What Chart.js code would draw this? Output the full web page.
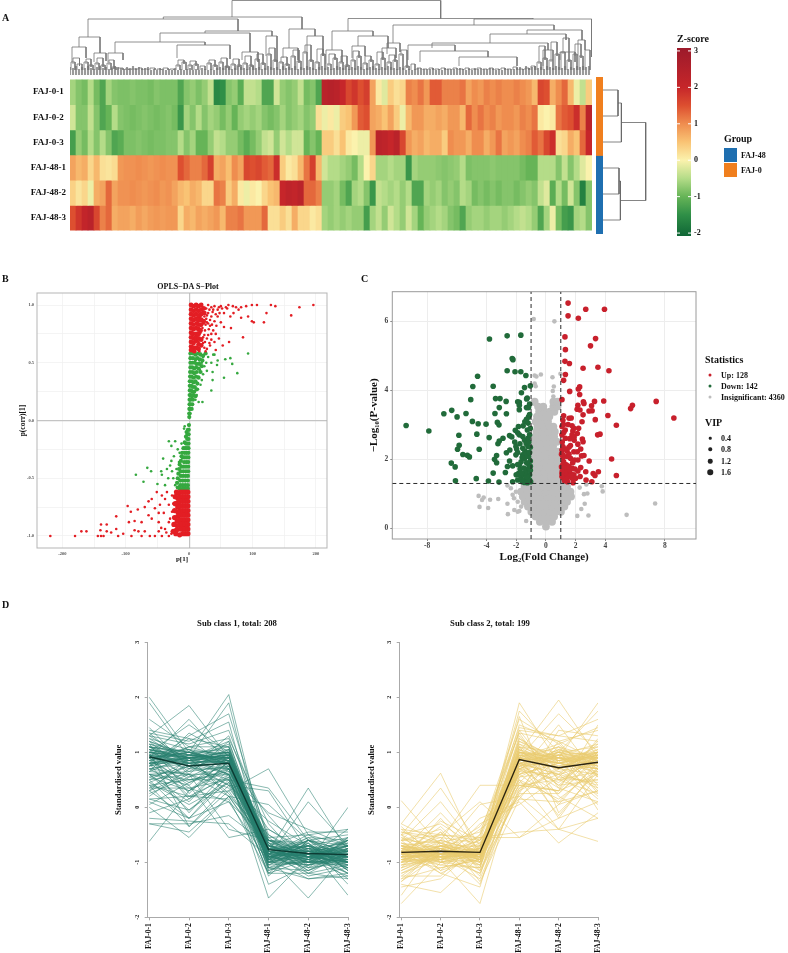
<!DOCTYPE html>
<html>
<head>
<meta charset="utf-8">
<title>FAJ metabolomics figure</title>
<script src="https://cdn.jsdelivr.net/npm/chart.js@4"></script>
<style>
  html, body { margin: 0; background: #fff; }
  #page { position: relative; width: 788px; height: 953px; overflow: hidden; font-family: "Liberation Serif", serif; color: #111; }
  canvas { position: absolute; }
  .t { position: absolute; font-weight: bold; font-size: 8px; white-space: nowrap; transform: translateY(-50%); will-change: transform; }
  .c { transform: translate(-50%, -50%); }
  .h { font-size: 10px; }
  .dot { position: absolute; border-radius: 50%; transform: translate(-50%, -50%); }
  .sw { position: absolute; left: 724px; width: 13px; height: 14px; }
</style>
</head>
<body>
<div id="page">
  <canvas id="treeTop" width="522" height="76" style="left:70px;top:0"></canvas>
  <canvas id="heat" width="600" height="170" style="left:0;top:70px"></canvas>
  <canvas id="groupBar" width="7" height="157" style="left:596px;top:77px"></canvas>
  <canvas id="treeSide" width="44" height="156" style="left:603px;top:77px"></canvas>
  <canvas id="zbar" width="50" height="205" style="left:670px;top:40px"></canvas>
  <canvas id="splot" width="320" height="290" style="left:14px;top:278px"></canvas>
  <canvas id="volcano" width="334" height="281" style="left:366px;top:285px"></canvas>
  <canvas id="sub1" width="255" height="321" style="left:105px;top:632px"></canvas>
  <canvas id="sub2" width="250" height="321" style="left:360px;top:632px"></canvas>

  <div class="t h" style="left:2px;top:17px">A</div>
  <div class="t h" style="left:2px;top:278px">B</div>
  <div class="t h" style="left:361px;top:278px">C</div>
  <div class="t h" style="left:2px;top:604px">D</div>

  <div class="t h" style="left:677px;top:38px">Z-score</div>
  <div class="t h" style="left:724px;top:138px">Group</div>
  <div class="sw" style="top:148px;background:#1f6fb0"></div>
  <div class="sw" style="top:163px;background:#f07f1e"></div>
  <div class="t" style="left:741px;top:155px">FAJ-48</div>
  <div class="t" style="left:741px;top:170px">FAJ-0</div>

  <div class="t c" style="left:188px;top:286px;font-size:8px">OPLS−DA S−Plot</div>

  <div class="t h" style="left:705px;top:359px">Statistics</div>
  <div class="dot" style="left:710px;top:375px;width:3px;height:3px;background:#c8202c"></div>
  <div class="dot" style="left:710px;top:386px;width:3px;height:3px;background:#216b3a"></div>
  <div class="dot" style="left:710px;top:397px;width:3px;height:3px;background:#bdbdbd"></div>
  <div class="t" style="left:721px;top:375px">Up: 128</div>
  <div class="t" style="left:721px;top:386px">Down: 142</div>
  <div class="t" style="left:721px;top:397px">Insignificant: 4360</div>
  <div class="t h" style="left:705px;top:422px">VIP</div>
  <div class="dot" style="left:710px;top:438px;width:2.5px;height:2.5px;background:#222"></div>
  <div class="dot" style="left:710px;top:449px;width:3.5px;height:3.5px;background:#222"></div>
  <div class="dot" style="left:710px;top:461px;width:4.5px;height:4.5px;background:#222"></div>
  <div class="dot" style="left:710px;top:472px;width:5.5px;height:5.5px;background:#222"></div>
  <div class="t" style="left:721px;top:438px">0.4</div>
  <div class="t" style="left:721px;top:449px">0.8</div>
  <div class="t" style="left:721px;top:461px">1.2</div>
  <div class="t" style="left:721px;top:472px">1.6</div>

  <div class="t c" style="left:237px;top:623px;font-size:8.7px">Sub class 1, total: 208</div>
  <div class="t c" style="left:490px;top:623px;font-size:8.7px">Sub class 2, total: 199</div>
</div>
<script>
const samples = ['FAJ-0-1', 'FAJ-0-2', 'FAJ-0-3', 'FAJ-48-1', 'FAJ-48-2', 'FAJ-48-3'];

// panel A, z-score per row, one value per column band
const rowA1 = [-.6,-.8,-.9,-.5,-.9,-1.2,-.6,-.8,-.85,-.85,-.8,-.85,-.85,-.9,-.8,-.85,-.85,-.85,-1.2,-.8,-.7,-.85,-.7,-.4,-1.6,-1.5,-.8,-.7,-1.1,-.4,
  -.4,-.5,-1.2,-1.2,-.3,-.7,-.8,-.7,-.4,-.9,-.8,-1.2,2.3,2.4,2.3,2,1.6,1.8,1.5,1.7,.8,.1,-.2,.4,.2,.3,1.1,1,1.2,.9,
  1.4,1.4,1.1,1.1,1.1,1.2,.8,1,.9,1.1,1,1.1,1,1,1.1,1,.9,.6,1.6,1.5,.7,1,1.3,.6,-.1,-.4,.4];
const rowA2 = [-.3,-.8,-.8,-.4,-.8,-1.2,-1,-.5,-.8,-.85,-.9,-.85,-.8,-.85,-.9,-.85,-.8,-.9,-1.4,-.6,-.8,-.5,-.8,-.6,-.7,-.9,-.7,-1,-.7,-.6,
  -.7,-.6,-.8,-.9,-.8,-.6,-.8,-.7,-.6,-.8,-.7,.2,-.1,.1,-.1,.4,.5,.9,1.4,1.5,.8,.7,.5,.8,.4,-.1,.6,.9,.9,.7,
  .7,.8,.7,.9,.9,.6,1.3,1,1.2,1,1.1,.9,1,1,.9,1.1,1,1.2,.1,0,.1,1.2,1.4,1.5,1.9,1.1,2.3];
const rowA3 = [-1.3,-.7,-.9,-.5,-.8,-.5,-.8,-1.2,-1.1,-.85,-.85,-.8,-.85,-.9,-.85,-.85,-.8,-.8,-.5,-.8,-.6,-1,-1,-.7,-.4,-.5,-.7,-.7,-.9,-1.1,
  -.9,-.7,-.4,-.3,-.7,-.3,-.5,-.3,-.3,-1,-.8,-1,.4,.4,.2,.5,.1,0,-.1,-.1,.9,2.3,2.2,2,2.3,1.6,.9,.7,.8,.6,
  .7,.7,.4,1,.9,.9,.7,1,1,.7,.9,1.2,.8,.9,.8,1,1.1,1.4,1.2,1.6,1.9,.2,.3,.7,.5,1.3,2];
const rowB1 = [.8,.6,.7,.3,.6,.2,.15,.25,.9,.95,.95,1,.95,.9,.95,1,.95,.95,1.5,1.3,1.1,1.1,1.3,1.7,.7,.8,.55,1,.8,1.6,
  1.5,1.6,1.4,1.3,1.9,.4,.1,.2,.6,1.2,1.7,.6,-.3,-.5,-.5,-.6,-.7,-.9,-.5,0,.3,-.6,-.6,-.5,-.6,-.6,-1.4,-.6,-.7,-.7,
  -.7,-.75,-.8,-.75,-.7,-.5,-.85,-.8,-.8,-.8,-.75,-.8,-.8,-.8,-.8,-.9,-1,-1,-.5,-.5,-.5,-.8,-.4,-.8,-.5,-.2,0];
const rowB2 = [.35,.15,.3,-.1,.7,.8,1.3,.8,.95,.95,1,.95,.9,.95,1,.9,.95,.8,.6,.5,.7,.6,.3,.3,1.2,1.1,.4,.7,.1,-.1,
  .1,0,.3,.5,.6,2,2.2,2.1,2.3,1.3,1.3,1.1,-.7,-.7,-.6,-.9,-1.2,-.6,-.5,-.8,-1.4,-.4,-.5,-.6,-.5,-.7,-.5,-1.2,-1.2,-.6,
  -.7,-.6,-.8,-.7,-.8,-.5,-.6,-.9,-.8,-.9,-.8,-.9,-.8,-.8,-.9,-.8,-.7,-.8,-.4,-.2,-1.1,-.5,-.9,-.3,-.8,-1.7,-.8];
const rowB3 = [1.5,1.8,2.1,2.3,1.6,1.1,1.3,.7,.8,.8,.7,.85,.75,.85,.9,.85,.9,.9,.3,.7,.6,.8,.7,.8,.9,.6,1.1,1.1,1.2,.9,
  .9,.9,1.3,.2,.2,.4,.2,.7,.3,.3,.1,.2,-.6,-.7,-.6,-.7,-.6,-.7,-.7,-1.3,-.6,-.4,-.7,-.3,-.5,-.7,-.3,-.6,-1,-.7,
  -.6,-.5,-.6,-.8,-.9,-1.2,-.7,-.6,-.6,-.7,-.6,-.6,-.7,-.6,-.5,-.4,-.5,-.7,-1.2,-.6,-.1,-.9,-1.3,-1.4,-.6,-.5,-.8];
const heatRows = [rowA1, rowA2, rowA3, rowB1, rowB2, rowB3];
const rowGroups = ['FAJ-0', 'FAJ-0', 'FAJ-0', 'FAJ-48', 'FAJ-48', 'FAJ-48'];
const groupColors = { 'FAJ-0': '#f07f1e', 'FAJ-48': '#1f6fb0' };
const zTicks = [3, 2, 1, 0, -1, -2];
const zStops = [[-2.08,'#0f6636'],[-1.5,'#2f8f47'],[-1,'#66b457'],[-.5,'#b4dc88'],[0,'#fbf2ad'],[.5,'#f9c374'],[1,'#ef8d4f'],[1.5,'#dd4f30'],[2,'#c6262a'],[3.08,'#9c1a2b']];

// column tree: [leftPos, leftHeight, rightPos, rightHeight, joinHeight]
const treeMerges = [
  [162,59,370.7,57.5,75.5],[93.3,57,232,47,59],[18,39,168,45,57],[9,29,30,23,39],[2,14,16,18,29],[24,14,36,15,23],
  [135,43,202,40,45],[90,34,180,24,43],[45,23,135,31,34],[38,14,53,16,23],[107,18,160,17,31],[172,16,188,14,24],
  [196,20,207,14,40],[219,28,245,40,47],[237,24,253,20,40],[213,18,228,16,28],
  [278,45,463,57,57.5],[404,51,521.7,19,57],[262,26,303,40,45],[256,12,272,14,26],[288,30,318,28,40],[282,18,295,20,30],[312,16,326,18,28],
  [323,33,484,46,51],[317,22,330,24,33],[457,42,512,36,46],[420,33,496,36,42],[508,20,515,26,36],[362,28,478,26,33],
  [338,16,385,25,31],[350,14,418,19,25],[389,10,447,10,19],[473,10,483,16,26],[490,16,505,14,24],
  [3,12,9.5,10,18],[16,12,21,9,17],[27,11,33,9,18],[39,11,44,7,16],[187,15,193,11,22],[199,20,205,14,28],[211,12,217,10,19],[223,18,229,13,26],[235,22,241,14,31],[247,12,253,20,27],[259,10,265,16,22],[271,12,277,9,20],[283,14,289,18,25],[295,11,301,14,20],[307,10,313,16,24],[319,12,325,14,21],[331,20,337,8,26],[469,12,475,16,30],[481,14,487,20,34],[493,22,499,14,38],[505,20,511,18,32],[108,9,114,12,16],[120,9,126,10,15],[139,11,145,9,16],[151,12,157,8,18],[163,10,169,9,17],[175,11,181,9,20]
];
const twigs = [[1,5,12],[7,12,10],[14,18,12],[19,23,9],[25,29,11],[31,35,9],[37,41,11],[42,46,7],[48,53,6],[55,59,5],[61,66,5],[68,72,6],[74,78,5],[80,85,6],[87,91,5],[93,98,6],[100,104,5],[106,110,9],[112,116,12],[118,122,9],[124,128,10],[130,135,8],[137,141,11],[143,147,9],[149,153,12],[155,159,8],[161,165,10],[167,171,9],[173,177,11],[179,183,9],[185,189,15],[191,195,11],[197,201,20],[203,207,14],[209,213,12],[215,219,10],[221,225,18],[227,231,13],[233,237,22],[239,243,14],[245,249,12],[251,255,20],[257,261,10],[263,267,16],[269,273,12],[275,279,9],[281,285,14],[287,291,18],[293,297,11],[299,303,14],[305,309,10],[311,315,16],[317,321,12],[323,327,14],[329,333,20],[335,339,8],[341,345,10],[347,351,6],[353,357,5],[359,363,6],[365,369,5],[371,375,6],[377,381,5],[383,387,6],[389,393,5],[395,399,6],[401,405,5],[407,411,6],[413,417,5],[419,423,6],[425,429,5],[431,435,6],[437,441,5],[443,447,7],[449,453,5],[455,459,6],[461,465,8],[467,471,12],[473,477,16],[479,483,14],[485,489,20],[491,495,22],[497,501,14],[503,507,20],[509,513,18],[515,520,24]];
const leafHeights = [9,8,10,7,9,8,10,8,7,9,10,8,9,7,8,10,9,8,7,9,8,10,8,9,7,8,9,6,7,6,8,7,6,7,6,8,6,7,6,7,8,6,7,6,8,7,6,7,6,8,9,8,10,9,7,8,10,9,8,7,9,10,8,9,7,8,10,9,8,9,7,10,8,9,8,10,7,9,8,10,9,8,7,9,10,8,9,7,8,10,9,8,10,7,9,8,10,9,7,8,9,10,8,7,9,8,10,9,8,7,9,8,6,7,6,7,8,6,7,6,7,8,6,7,6,8,7,6,7,6,8,7,6,7,6,8,7,6,7,6,8,7,6,7,6,8,7,6,7,8,9,7,10,8,9,10,8,9,7,10,9,8,10,9,8,10,7,9,8,10,9,10,9,10];
// row tree: [topRow, topDepth, bottomRow, bottomDepth, joinDepth]
const rowMerges = [[.5,0,1.5,0,15],[1,15,2.5,0,18.4],[3.5,0,4.5,0,16],[4,16,5.5,0,17.4],[1.75,18.4,4.75,17.4,42.7]];

// panel B, p[1] against p(corr)[1]
const sRedTopCore = [[3,1],[7,.99],[11,1],[15,.99],[19,1],[3,.96],[7,.95],[11,.96],[15,.95],[3,.92],[7,.91],[11,.92],[16,.9],[3,.88],[7,.87],[11,.88],[3,.84],[7,.83],[12,.84],[3,.8],[7,.79],[11,.8],[3,.76],[6,.75],[11,.75],[3,.72],[7,.71],[3,.68],[7,.67],[11,.69],[3,.64],[7,.63],[12,.63],[3,.61],[8,.6],
  [15,.91],[19,.96],[19,.92],[15,.87],[19,.87],[15,.83],[19,.83],[15,.79],[18,.78],[15,.75],[11,.72],[15,.71],[19,.7],[15,.66],[19,.65],[15,.62],[23,.97],[24,.93],[23,.86]];
const sRedTop = [[196,1],[174,.98],[161,.91],[136,.99],[129,1],[122,.93],[118,.85],[107,1],[99,1],[90,.99],[102,.85],[99,.86],[93,.9],[82,.89],[85,.72],[82,.98],[74,.98],[69,.99],[58,.98],[50,.99],[47,.98],[66,.8],[55,.81],[63,.68],[53,.65],[47,.71],[42,.61],
  [20,.99],[25,.97],[30,1],[35,.98],[40,.99],[45,.96],[55,.93],[60,.97],[65,.9],[70,.93],[30,.93],[35,.9],[40,.86],[45,.9],[50,.85],[28,.85],[33,.82],[38,.78],[42,.75],[25,.78],[30,.74],[35,.7],[25,.68],[20,.65],[28,.62],[22,.72],[18,.82],[24,.9],[16,.95],[18,.76],[15,.68],[20,.88],[13,.62],[16,.6],[33,.65],[22,.94],[27,.88],[15,.86],[14,.78],[19,.71],[24,.63],[12,.97],[23,.84],
  [27,.97],[32,.96],[37,.94],[28,.91],[33,.87],[26,.83],[31,.79],[24,.74],[28,.71],[32,.67],[22,.67],[26,.6],[36,.83],[42,.92],[48,.93],[38,.96],[43,.82],[30,.84],[35,.75],[21,.8],[52,.97],[62,1],[78,.96],[40,.68]];
const sGreenTopCore = [[2,.58],[6,.58],[10,.57],[14,.58],[2,.54],[6,.54],[10,.53],[13,.54],[2,.5],[5,.5],[9,.5],[12,.49],[2,.46],[5,.46],[8,.45],[11,.46],[1.5,.42],[5,.42],[8,.41],[1.5,.38],[4,.38],[7,.37],[1,.34],[4,.34],[7,.33],[1,.3],[3.5,.3],[6,.29],[1,.26],[3,.26],[5,.25],[.8,.22],[2.5,.22],[4.5,.21],[.7,.18],[2,.18],[.6,.14],[1.8,.14],[.4,.1],[1.2,.1],[.3,.06],[.8,.06],[.2,.03],
  [18,.57],[22,.56],[26,.58],[17,.53],[21,.52],[16,.49],[20,.47],[15,.45],[18,.42],[12,.42],[11,.38],[15,.37],[10,.34],[13,.32],[9,.29],[12,.27],[8,.25],[7,.22],[10,.21],[6,.18],[5,.14],[4,.1]];
const sGreenTop = [[93,.58],[76,.41],[68,.49],[65,.54],[57,.53],[55,.37],[44,.48],[45,.52],[37,.42],[37,.35],[35,.26],[21,.16],[15,.16],[38,.57],[18,.58],[22,.55],[25,.58],[30,.55],[20,.5],[24,.47],[28,.43],[17,.44],[22,.4],[15,.38],[20,.35],[18,.31],[14,.27],[12,.22],[10,.18],[16,.52],[27,.5],[35,.5],[40,.57]];
const sGreenLowCore = [[-.3,-.04],[-.6,-.08],[-2,-.08],[-.8,-.12],[-2.5,-.12],[-1,-.16],[-3,-.16],[-1,-.2],[-3,-.2],[-5,-.2],[-1,-.24],[-3.5,-.24],[-6,-.24],[-1.2,-.28],[-4,-.28],[-7,-.28],[-1.2,-.32],[-4,-.32],[-7,-.32],[-10,-.32],[-1.5,-.36],[-4.5,-.36],[-8,-.36],[-1.5,-.4],[-5,-.4],[-8.5,-.4],[-12,-.4],[-1.5,-.44],[-5,-.44],[-9,-.44],[-13,-.44],[-2,-.48],[-5.5,-.48],[-9.5,-.48],[-13,-.48],[-2,-.52],[-6,-.52],[-10,-.52],[-14,-.52],[-2,-.56],[-6,-.56],[-10,-.56],[-14,-.56],[-2,-.59],[-6,-.59],[-10,-.59],[-15,-.59],
  [-18,-.58],[-19,-.54],[-18,-.5],[-17,-.46],[-16,-.42],[-15,-.38],[-13,-.35],[-11,-.28],[-9,-.24],[-7,-.19],[-5,-.14],[-4,-.1],[-12,-.31]];
const sGreenLow = [[-66,-.41],[-60,-.44],[-84,-.47],[-72,-.53],[-50,-.55],[-43,-.47],[-41,-.33],[-32,-.18],[-28,-.22],[-22,-.18],[-24,-.31],[-33,-.5],[-27,-.44],[-44,-.44],[-38,-.56],[-22,-.56],[-30,-.39],[-16,-.36],[-8,-.07],[-7,-.05],[-18,-.25],[-20,-.42],[-15,-.28],[-12,-.2],[-25,-.5],[-18,-.5],[-35,-.42],[-28,-.35]];
const sRedLowCore = [[-2,-.62],[-6,-.62],[-10,-.62],[-14,-.62],[-18,-.63],[-2,-.66],[-6,-.66],[-10,-.66],[-14,-.66],[-18,-.67],[-2,-.7],[-6,-.7],[-10,-.7],[-14,-.7],[-18,-.71],[-2,-.74],[-6,-.74],[-10,-.74],[-14,-.74],[-18,-.75],[-2,-.78],[-6,-.78],[-10,-.78],[-14,-.78],[-18,-.79],[-2,-.82],[-6,-.82],[-10,-.82],[-14,-.82],[-18,-.83],[-2,-.86],[-6,-.86],[-10,-.86],[-14,-.86],[-19,-.87],[-2,-.9],[-6,-.9],[-10,-.9],[-14,-.9],[-19,-.91],[-2,-.94],[-6,-.94],[-10,-.94],[-14,-.94],[-20,-.95],[-2,-.98],[-6,-.98],[-10,-.98],[-15,-.99],[-21,-.98],
  [-22,-.66],[-22,-.72],[-23,-.78],[-23,-.84],[-24,-.9],[-25,-.96],[-20,-.62]];
const sRedLow = [[-219,-1],[-180,-1],[-170,-.96],[-162,-.96],[-144,-1],[-140,-.95],[-139,-.9],[-130,-.9],[-139,-1],[-135,-1],[-130,-.96],[-123,-.97],[-115,-.94],[-115,-.83],[-112,-1],[-104,-.98],[-97,-.74],[-92,-.79],[-95,-.88],[-86,-.87],[-81,-.77],[-75,-.88],[-70,-.75],[-64,-.7],[-59,-.68],[-51,-.62],[-91,-1],[-86,-.95],[-80,-.96],[-75,-1],[-70,-.96],[-62,-1],[-54,-1],[-48,-.96],[-43,-1],[-38,-.94],[-32,-1],[-27,-.96],[-48,-.88],[-40,-.8],[-32,-.73],[-38,-.68],[-27,-.65],[-30,-.85],[-59,-.85],[-54,-.76],[-46,-.73],[-64,-.82],[-43,-.65],[-35,-.62],[-27,-.79],[-24,-.91],[-32,-.88],[-48,-.8],[-25,-.72],[-28,-.98],[-36,-.97],[-44,-.93],[-22,-.84]];
const sXTicks = [-200, -150, -100, -50, 0, 50, 100, 150, 200];
const sYTicks = [-1, -.75, -.5, -.25, 0, .25, .5, .75, 1];

// panel C, log2 fold change against -log10 p
const upPoints = [[1.49,6.53],[2.68,6.35],[3.94,6.35],[1.49,6.16],[2.18,6.09],[1.28,5.55],[3.34,5.5],[3,5.29],[1.31,5.18],[1.28,4.84],[1.58,4.78],[2.5,4.64],[3.5,4.67],[4.24,4.57],[1.31,4.46],[1.19,4.29],[2.27,4.1],[2.18,4.04],[1.6,3.97],[2.27,3.88],[1.08,3.73],[2.52,3.67],[2.56,3.62],[3.27,3.68],[3.89,3.69],[2.15,3.57],[3.07,3.55],[2.29,3.43],[3.11,3.41],[2.5,3.29],[4.17,3.27],[1.19,3.26],[1.56,3.19],[5.82,3.57],[5.7,3.47],[7.42,3.68],[8.61,3.2],[3.32,3.15],[2.43,3.09],[1.14,3.13],[4.74,2.99],[1.19,3.01],[1.49,3.01],[1.08,2.95],[1.76,2.97],[1.88,2.9],[1.81,2.82],[2.11,2.75],[3.48,2.71],[3.64,2.73],[1.76,2.71],[1.08,2.71],[1.31,2.61],[2.45,2.59],[2.5,2.51],[2.15,2.44],[1.14,2.37],[1.65,2.4],[2.34,2.3],[1.08,2.27],[1.42,2.24],[1.88,2.22],[2.11,2.22],[2.56,2.11],[1.14,2.13],[1.42,2.08],[1.65,2.03],[1.92,1.98],[2.15,1.98],[1.19,1.93],[4.42,2.01],[2.91,1.95],[1.14,1.84],[1.37,1.84],[1.76,1.74],[2.34,1.76],[1.19,1.69],[1.42,1.64],[1.65,1.59],[1.88,1.55],[2.15,1.66],[2.68,1.64],[1.08,1.59],[1.31,1.55],[1.53,1.5],[1.76,1.45],[3.18,1.59],[3.53,1.64],[3.3,1.53],[4.74,1.53],[1.19,1.45],[1.42,1.45],[1.83,1.32],[3.09,1.35],[1.08,1.5],
  [1.1,2.5],[1.3,2.85],[1.6,2.6],[1.9,2.55],[1.15,2.05],[1.3,1.75],[1.55,1.8],[1.05,1.78],[1.25,1.38],[1.45,1.35],[1.7,1.55],[2,1.45],[1.3,2.3],[1.55,2.15],[1.1,1.65],[1.55,2.35],[1.8,1.9],[2.4,2.1],[2.7,1.4],[1.05,2.15],[1.2,2.78],[1.7,3.2],[2.1,3.45],[2.2,2.9],[2.9,3.4],[1.35,1.4],[1.6,1.68],[1.95,1.72],[2.3,1.5],[1.9,2.65]];
const downPoints = [[-9.41,2.98],[-7.88,2.82],[-6.87,3.32],[-6.34,3.42],[-5.98,3.23],[-5.38,3.33],[-4.95,3.1],[-4.56,3.03],[-4.03,3.02],[-5.06,3.73],[-4.92,4.11],[-4.6,4.41],[-3.55,4.12],[-3.8,5.49],[-2.61,5.58],[-1.69,5.6],[-2.27,4.92],[-2.22,4.89],[-2.61,4.57],[-2.08,4.54],[-1.69,4.54],[-1.35,4.43],[-1.05,4.13],[-1.44,4.08],[-1.65,3.93],[-1.26,3.78],[-3.39,3.76],[-3.09,3.76],[-2.68,3.68],[-1.9,3.67],[-1.79,3.65],[-3.14,3.5],[-3.43,3.33],[-2.66,3.32],[-1.79,3.57],[-1.79,3.44],[-1.31,3.5],[-1.17,3.5],[-1.17,3.23],[-1.31,3.16],[-1.42,3.09],[-1.53,2.97],[-3.27,3.07],[-3.16,3],[-4.65,2.73],[-5.86,2.7],[-3.82,2.63],[-5.84,2.41],[-5.95,2.29],[-4.49,2.29],[-5.59,2.14],[-5.29,2.12],[-5.15,2.07],[-6.37,1.89],[-6.11,1.78],[-6.09,1.38],[-4.69,1.44],[-3.87,1.37],[-3.16,1.34],[-2.73,1.62],[-3.55,1.6],[-3.32,2.11],[-3.46,2],[-3.32,1.9],[-2.66,2.19],[-2.43,2.27],[-3.23,2.45],[-3.14,2.53],[-2.89,2.61],[-2.45,2.69],[-2.06,2.84],[-1.9,2.77],[-1.79,2.71],[-1.56,2.66],[-1.44,2.56],[-1.21,2.61],[-1.1,2.71],[-2.02,2.37],[-1.97,2.3],[-1.33,2.46],[-1.21,2.37],[-1.56,2.32],[-1.42,2.24],[-1.28,2.19],[-2.02,2.13],[-1.56,2.13],[-1.44,2.03],[-1.67,1.93],[-1.79,1.84],[-2.59,1.79],[-2.24,1.81],[-1.74,1.72],[-1.85,1.59],[-1.21,1.88],[-1.17,2.08],[-2.24,1.35],[-1.9,1.4],[-1.67,1.45],[-1.44,1.4],[-1.21,1.45],[-1.79,1.55],[-1.51,1.55],[-1.1,1.55],[-1.33,1.64],[-1.17,1.74],[-1.03,1.35],[-1.44,1.33],
  [-1.1,3.3],[-1.2,3.05],[-1.05,2.9],[-1.25,2.85],[-1.15,2.5],[-1.05,2.35],[-1.35,2.15],[-1.1,2.2],[-1.05,1.95],[-1.3,1.9],[-1.5,1.75],[-1.1,1.4],[-1.25,1.32],[-1.6,1.35],[-1.3,1.5],[-1.05,1.68],[-1.4,1.62],[-1.65,1.6],[-1.9,1.85],[-2,1.55],[-2.1,2.5],[-1.75,2.45],[-2.3,2.65],[-1.85,2.95],[-1.1,3.6],[-1.3,3.75],[-1.05,1.8],[-1.6,2.05],[-1.9,2.2],[-2.45,1.95]];
const insigOutliers = [[-4.53,.94],[-4.3,.82],[-4.19,.89],[-3.76,.83],[-3.21,.85],[-4.47,.62],[-3.89,.59],[-2.59,.71],[-2.56,.41],[3.76,1.22],[3.82,1.07],[7.35,.72],[5.43,.39],[2.86,.37],[2.38,.56],[2.11,.36],[2.61,.71],[2.27,1.18],[2.72,1.27],[2.56,.99],[2.79,1.01],[-.82,6.07],[.57,6],[.98,4.48],[.44,4.38],[.53,4.11],[.46,3.98],[.5,3.82],[-.76,4.43],[-.64,4.4],[-.34,4.46],[-.87,3.62],[-.69,4.12],[-.76,4.2],[-1.33,.21],[-1.9,.48],[-2.13,.53],[-1.79,.5],[-2.59,1.24],[-2.36,1.16],[-2.02,1.06],[-2.15,.87],[-2.24,.97],[-1.9,.77],[-1.67,.63]];
// the dense grey funnel, as [y, x, x, ...]
const insigBands = [[.05,0],[.19,-.41,0,.41],[.34,-.69,-.27,.14,.55],[.48,-.98,-.57,-.16,.25,.66,1.01],[.63,-1.21,-.8,-.39,.02,.44,.85,1.24],[.77,-1.44,-1.03,-.62,-.21,.21,.62,1.03,1.42],[.92,-1.56,-1.14,-.73,-.32,.09,.5,.92,1.33,1.69],[1.06,-1.67,-1.26,-.85,-.44,-.02,.39,.8,1.21,1.65],[1.21,-1.44,-1.03,-.62,-.21,.21,.62,1.03,1.42],[1.35,-.98,-.6,-.18,.23,.64,.96],[1.5,-.87,-.46,-.05,.37,.78],[1.64,-.92,-.5,-.09,.32,.73],[1.79,-.82,-.41,0,.41,.82],[1.93,-.92,-.5,-.09,.32,.78],[2.08,-.8,-.39,.02,.44,.73],[2.22,-.87,-.46,-.05,.37,.78],[2.37,-.76,-.34,.07,.48],[2.51,-.82,-.41,0,.41,.73],[2.66,-.69,-.27,.14,.55],[2.8,-.64,-.23,.18,.6],[2.95,-.57,-.16,.25,.5],[3.09,-.69,-.27,.14],[3.24,-.6,-.18,.23],[3.38,-.46,-.09,.27,.57],[3.53,-.53,-.18,.5,.78],[3.67,-.76,.5,.78]];
const fcCuts = [-1, 1];
const pCut = 1.3;
const vXTicks = [-8, -4, -2, 0, 2, 4, 8];
const vYTicks = [0, 2, 4, 6];

// panel D, standardised profiles
const meanSub1 = [.92, .75, .8, -.77, -.84, -.86];
const meanSub2 = [-.82, -.8, -.82, .87, .72, .82];
const linesSub1 = [
  [2,1,1,-.7,-.9,-.9],[1.9,.9,1.2,-.8,-.9,-.8],[1.3,1.85,.9,-.8,-.9,-1],[1,1.5,1,-.9,-.8,-.7],[1.1,1,2.05,-.9,-.7,-.9],[1,.9,1.9,-1,-.8,-.8],[.8,1.3,1.7,-.6,-.9,-1],[1.3,1.15,1.4,-.5,-.9,-.9],
  [-.62,.3,.7,-.9,-1,-1],[-.3,-.3,-.15,-.7,-.9,-.7],[-.3,-.45,.2,-.8,-.9,-1],[0,-.55,.2,-.85,-.6,-.8],[-.2,-.25,-.3,-.9,-1,-.9],[.1,-.2,.1,-.6,-.8,-1],[.3,-.2,.5,-.8,-1,-.8],
  [.4,.2,.3,.7,-.5,-.9],[.6,.5,.5,.35,-.6,-.7],[.7,.8,.4,.3,-.8,-.9],[.5,.6,.2,.05,-.6,-.8],[1,.9,.6,-1.65,-.9,-.4],[.9,.8,.7,-.8,.35,-.8],[.8,.9,.8,-.9,.1,-.7],[.9,1,.8,-.9,-1.65,-.8],[.8,.9,1,-.6,-.7,-1.6],[1.1,.8,.6,-1,-1,0],[.6,.4,-.55,-.4,-.8,-.6],[.3,.6,-.4,-.6,-.9,-.8],
  [1,.9,.95,-.8,-.9,-.95],[1.05,.95,.9,-.85,-.85,-.8],[.95,.9,1,-.9,-.95,-.9],[1.1,.85,.9,-.75,-.8,-1],[.85,1,.85,-.95,-.75,-.85],[1.2,.9,.85,-.7,-1,-.75],[.9,.95,1.1,-1.1,-.8,-.9],[1.15,1,.8,-.8,-.7,-1.1],[.8,.85,.95,-.65,-1.1,-.85],[1,1.05,.75,-1,-.9,-.7],[1.25,.8,1.05,-.9,-.85,-.6],[.75,.9,.9,-.85,-1.2,-1.05],[.95,.7,.95,-.7,-.75,-1.2],[1.05,.85,1.15,-.95,-.6,-.9],
  [.7,.3,.9,-.8,-.9,-1],[.6,.1,.85,-.7,-.8,-.9],[.8,-.1,.7,-.9,-.7,-.8],[.5,-.2,.6,-.8,-1,-.7],[.9,.4,1,-.75,-.95,-.85],[.4,.5,.6,-.9,-.85,-1.2],[.65,.6,.35,-.6,-.75,-.65],[.55,.75,.5,-1.2,-1.2,-1.3],[.2,.7,.7,-.85,-.55,-.6],[.75,1.25,.7,-1.25,-.6,-.5],[.45,.05,.45,-.95,-1.3,-1.25],[.3,.9,.25,-.7,-.45,-.45],[.35,.35,.1,-1,-.65,-1.4],[1.35,1.2,1.55,-1.1,-1.3,-1.2],[1.45,.7,1.3,-.55,-.5,-.4],[1.6,1.1,1.25,-.3,-1.1,-.55],[.15,.2,.55,-1.4,-1.05,-.95],[.05,.45,.8,-.15,-.95,-1.25],[.9,.2,.15,-1.2,-.6,-1.15],[1.2,.6,.6,-.1,-.4,-.7],
  [1,.95,.9,-.9,-.8,-.85],[.95,.85,.95,-.85,-.95,-.75],[.9,1,.85,-1,-.85,-.9],[1.05,.9,1,-.8,-1,-1.05],[1.1,.95,.85,-.95,-.9,-.8],[.85,.9,.9,-.75,-.85,-.95],[.95,1.05,.95,-1.05,-.7,-1],[1,.8,.85,-.7,-.9,-.65],[1.15,.9,.95,-.85,-.8,-1.1],[.8,.95,1,-.95,-1.05,-.8],[.9,.85,.8,-1.1,-.95,-.7],[1.1,1,1.05,-.65,-.75,-.9],[.95,.8,.9,-.9,-1.1,-1],[1.05,.9,.8,-1,-.65,-1.15],[.85,1.1,.9,-.8,-.95,-.6],[1.2,.95,.9,-.75,-1.15,-.85],[.7,.85,.8,-.95,-.85,-1.1],[.9,1,.7,-.6,-1,-.95],[1,.75,1,-1.05,-.75,-.8],[.8,.8,.85,-.85,-.7,-1.05],[1.3,.85,.95,-1.15,-.85,-.7],[.75,1.1,1.1,-.9,-.6,-.95],[1.1,.65,.75,-.7,-1.15,-.9],[.65,.95,.8,-1.15,-.9,-.55],[.95,.55,.9,-.8,-1.25,-1.1],[1.25,1.05,.65,-.95,-.55,-1],[.6,.65,1.05,-.75,-.95,-.75],[.85,.45,.7,-1,-1.05,-.6],[1.35,.75,.85,-.6,-.65,-1.15],[.5,.85,.6,-.9,-.8,-1.3],[1.15,.25,.95,-.65,-1.2,-.8],[.35,.8,.9,-1.05,-1,-.95],[.7,.6,1.2,-.85,-.5,-.7],[1.4,1.25,1.1,-.75,-.7,-.55],[.6,-.05,.55,-1.2,-.95,-1.1],[.95,.15,.85,-.9,-.75,-1],[.25,.55,.75,-.55,-1.05,-.85],[.8,.35,.5,-.7,-.9,-1.2],[1.05,.5,.65,-.4,-.85,-.75],[.45,.75,.4,-.25,-.7,-.9],[.75,.9,.2,-.5,-1,-.6],[.55,.3,.75,-.95,-.6,-1],[1,-.35,.4,-.85,-.9,-.85],[.15,-.05,.45,-.65,-.85,-1.05],[.4,-.35,.3,-.75,-.8,-.7],[-.1,.15,.6,-1.1,-1.15,-.75],[.65,1.35,.95,-.7,-.85,-1.05],[.9,1.6,.8,-.9,-1.05,-.9]
];
const linesSub2 = [
  [-.85,-.8,-.9,1.9,.8,.9],[-.8,-.9,-.85,1.75,1,.8],[-.9,-.8,-.85,1,1.95,.9],[-.75,-.85,-.8,.9,1.7,1],[-.85,-.9,-.75,1,.9,1.9],[-.8,-.75,-.9,.8,1,1.75],[-.7,-.85,-.9,1.4,1.3,1.6],[-1,-.7,-.8,1.5,1.2,1.4],
  [.12,-.7,-.9,.7,.5,.9],[-.3,.62,-.9,.8,.6,.8],[-.5,.35,-.7,1,.9,.7],[-.6,.1,-.8,.9,.7,.9],[-.9,-.25,-.6,.6,.8,1],[-1.75,-1,-1.1,.9,.8,.7],[-1.4,-1.55,-.9,.8,.9,1],[-1,-.95,-1.75,.7,.9,.8],[-.8,-1.2,-1.45,1,.8,.7],
  [-.7,-.6,.4,.4,.3,.6],[-.6,-.5,.1,-.55,-.2,.1],[-.4,-.5,-.55,-.45,-.4,-.2],[-.9,-.7,-.55,-.55,.05,.3],[-1.1,-.9,-.2,.1,-.65,-.1],[-.8,-.8,.05,.2,-.4,-.62],[-.7,-.9,-.4,.15,.1,.3],
  [-.85,-.8,-.85,.95,.85,.9],[-.9,-.85,-.8,.9,.9,.85],[-.8,-.9,-.85,1,.8,.95],[-.95,-.75,-.9,.85,.95,1],[-.75,-.95,-.8,1.05,.75,.85],[-1,-.85,-.75,1.1,.85,.8],[-.85,-1,-.95,.8,1,.95],[-.7,-.8,-1,.95,.7,1.05],[-.9,-.7,-.7,1.15,.9,.75],[-1.05,-.9,-.85,.75,1.05,.9],[-.65,-.75,-.95,.85,1.1,.7],[-.8,-1.05,-1.1,1.2,.8,1.1],[-1.15,-.8,-.9,1,.7,.85],[-.95,-.95,-.7,.7,.95,1.15],[-.6,-.65,-.85,1.25,.85,.95],
  [-.85,-.6,-.8,.7,.25,.9],[-.75,-.7,-.9,.6,.1,.8],[-.95,-.8,-.75,.8,-.15,.7],[-.7,-1,-.85,.5,-.4,.6],[-.9,-.9,-1.05,.9,.4,1],[-.8,-.5,-.6,.4,.5,.5],[-1.2,-.85,-1.2,.55,.65,.35],[-.55,-.75,-1,1.3,.5,.25],[-1.3,-1.1,-.95,.3,1.2,.4],[-.45,-.55,-.65,.2,.75,.15],[-1.25,-1.25,-.55,1.45,1.3,1.2],[-.4,-.9,-1.3,.35,.6,.05],[-1.1,-.45,-1.35,.15,1.05,-.05],[-.5,-1.15,-.5,1.6,1.15,1.45],[-.6,-.4,-1.15,.25,1.4,1.3],[-.3,-.65,-.45,1.35,.35,1.25],[-1.45,-1.3,-.7,.65,1.5,.55],[-1.6,-.6,-1.25,1.1,.2,-.2],[-.35,-1,-.3,.05,.55,.45],[-.5,-.3,-.75,1.65,-.1,.65],[-1.35,-.7,-1.4,.45,.3,1.5],
  [-.9,-.85,-.85,.9,.8,.95],[-.85,-.95,-.9,.95,.95,.8],[-.95,-.85,-.8,.85,.9,.9],[-.8,-.8,-.95,1.05,.85,1],[-.9,-.9,-.9,1.1,1,.85],[-.75,-.85,-.85,.8,.75,.95],[-1.05,-.95,-.8,1,.95,.75],[-.85,-.7,-.95,.75,.85,1.05],[-.95,-1,-.85,.9,1.1,.9],[-.8,-.9,-.75,1.15,.7,1],[-.7,-.85,-.9,.95,.8,.7],[-1.1,-.8,-.95,.85,1,1.1],[-.9,-1.05,-.8,1.1,.65,.8],[-.8,-.75,-1.05,.7,1.05,.85],[-1,-.9,-.85,1.2,.9,.6],[-.65,-.95,-.75,.8,.6,1.15],[-1.15,-.85,-1,.65,.95,.9],[-.85,-.65,-.9,1.05,.55,1.2],[-.95,-1.1,-.95,.6,.8,.65],[-.75,-.55,-1.1,1.25,.7,1],[-1.2,-.95,-.65,.9,1.15,.55],[-.6,-1.15,-.9,.75,.45,.95],[-1.3,-.75,-1.15,.55,.9,.75],[-.5,-.85,-.6,1.35,1.2,.85],[-.9,-.45,-.95,.5,.15,.7],[-1,-.6,-.8,.4,.3,1],[-.7,-1.2,-.85,.95,-.2,.75],[-.85,-.35,-1,.65,.6,.4],[-1.25,-.75,-.7,.35,.85,.2],[-.55,-.95,-.5,1,.4,.5],[-.95,-.8,-.35,.6,1,.35],[-.65,-.9,-1.2,.3,.7,.6],[-1.05,-.7,-.9,.85,.05,.85],[-.75,-1,-.75,1.4,.5,.65],[-.45,-.65,-1.05,.25,.25,.95],[-.8,-.1,-.85,.75,.95,.3],[-1,-.2,-1,.8,.35,.1],[-1.35,-.85,-.6,.45,1.1,.25]
];
const subXLabels = samples;
const subYTicks = [3, 2, 1, 0, -1, -2];

Chart.defaults.animation = false;
Chart.defaults.responsive = false;
Chart.defaults.font.family = '"Liberation Serif", serif';
Chart.defaults.font.weight = 'bold';
Chart.defaults.color = '#111';
Chart.defaults.plugins.legend.display = false;
Chart.defaults.plugins.tooltip.enabled = false;

const pts = list => list.map(([x, y]) => ({ x, y }));
const fixedTicks = values => scale => { scale.ticks = values.map(value => ({ value })); };
const gap = { x: NaN, y: NaN };

function hexRgb(hex) {
  return [1, 3, 5].map(i => parseInt(hex.slice(i, i + 2), 16));
}
function zColor(z) {
  let i = 0;
  while (i < zStops.length - 2 && z > zStops[i + 1][0]) i++;
  const [a, ca] = zStops[i], [b, cb] = zStops[i + 1];
  const t = Math.min(1, Math.max(0, (z - a) / (b - a)));
  const A = hexRgb(ca), B = hexRgb(cb);
  return `rgb(${A.map((v, k) => Math.round(v + (B[k] - v) * t)).join(',')})`;
}

// panel A: dendrogram on top
const treeLines = [];
treeMerges.forEach(([xl, hl, xr, hr, h]) => {
  treeLines.push({ x: xl, y: hl }, { x: xl, y: h }, { x: xr, y: h }, { x: xr, y: hr }, gap);
});
twigs.forEach(([xl, xr, h]) => {
  treeLines.push({ x: xl, y: 6 }, { x: xl, y: h + 2 }, { x: xr, y: h + 2 }, { x: xr, y: 6 }, gap);
});
const leafLines = [];
leafHeights.forEach((h, i) => {
  leafLines.push({ x: i * 3, y: 1 }, { x: i * 3, y: h }, gap);
});
new Chart(document.getElementById('treeTop'), {
  type: 'scatter',
  data: {
    datasets: [
      { data: treeLines, showLine: true, pointRadius: 0, borderColor: '#747474', borderWidth: 0.8 },
      { data: leafLines, showLine: true, pointRadius: 0, borderColor: '#9a9a9a', borderWidth: 2.1 }
    ]
  },
  options: {
    scales: {
      x: { display: false, min: 0, max: 522 },
      y: { display: false, min: 0, max: 76 }
    }
  }
});

// panel A: heatmap
new Chart(document.getElementById('heat'), {
  type: 'bar',
  data: {
    labels: rowA1.map((_, i) => i),
    datasets: heatRows.map((row, r) => ({
      data: row.map(() => [r, r + 1]),
      backgroundColor: row.map(zColor),
      borderWidth: 0,
      barPercentage: 1,
      categoryPercentage: 1,
      grouped: false
    }))
  },
  options: {
    layout: { padding: { top: 7, right: 8, bottom: 7 } },
    scales: {
      x: { display: false },
      y: {
        reverse: true, min: 0, max: 6,
        afterFit(s) { s.width = 70; },
        afterBuildTicks: fixedTicks(samples.map((_, i) => i + .5)),
        grid: { display: false, drawTicks: false },
        border: { display: false },
        ticks: {
          autoSkip: false, padding: 4, crossAlign: 'center', font: { size: 9 },
          callback: v => samples[v - .5]
        }
      }
    }
  }
});

// panel A: group strip
new Chart(document.getElementById('groupBar'), {
  type: 'bar',
  data: {
    labels: ['group'],
    datasets: rowGroups.map((g, r) => ({
      data: [[r, r + 1]], backgroundColor: groupColors[g], borderWidth: 0,
      barPercentage: 1, categoryPercentage: 1, grouped: false
    }))
  },
  options: {
    scales: {
      x: { display: false },
      y: { display: false, reverse: true, min: 0, max: 6 }
    }
  }
});

// panel A: sample dendrogram
const rowLines = [];
rowMerges.forEach(([r1, d1, r2, d2, d]) => {
  rowLines.push({ x: d1, y: r1 }, { x: d, y: r1 }, { x: d, y: r2 }, { x: d2, y: r2 }, gap);
});
new Chart(document.getElementById('treeSide'), {
  type: 'scatter',
  data: { datasets: [{ data: rowLines, showLine: true, pointRadius: 0, borderColor: '#666', borderWidth: 0.8 }] },
  options: {
    scales: {
      x: { display: false, min: 0, max: 44 },
      y: { display: false, reverse: true, min: 0, max: 6 }
    }
  }
});

// panel A: colour bar
const barTicks = {
  id: 'barTicks',
  afterDatasetsDraw(chart) {
    const { ctx, chartArea: a, scales: { y } } = chart;
    ctx.save();
    ctx.strokeStyle = '#fff';
    ctx.lineWidth = 1;
    zTicks.forEach(v => {
      const p = y.getPixelForValue(v);
      ctx.beginPath();
      ctx.moveTo(a.left, p); ctx.lineTo(a.left + 3, p);
      ctx.moveTo(a.right - 3, p); ctx.lineTo(a.right, p);
      ctx.stroke();
    });
    ctx.restore();
  }
};
new Chart(document.getElementById('zbar'), {
  type: 'bar',
  data: {
    labels: ['z'],
    datasets: [{
      data: [[zStops[0][0], zStops[zStops.length - 1][0]]],
      borderWidth: 0, barPercentage: 1, categoryPercentage: 1,
      backgroundColor(context) {
        const { chart } = context;
        if (!chart.chartArea) return '#ccc';
        const y = chart.scales.y;
        const top = y.getPixelForValue(y.max), bottom = y.getPixelForValue(y.min);
        const g = chart.ctx.createLinearGradient(0, bottom, 0, top);
        zStops.forEach(([v, col]) => g.addColorStop((v - y.min) / (y.max - y.min), col));
        return g;
      }
    }]
  },
  options: {
    layout: { padding: { left: 7, top: 8, bottom: 9 } },
    scales: {
      x: { display: false },
      y: {
        position: 'right', min: zStops[0][0], max: zStops[zStops.length - 1][0],
        afterFit(s) { s.width = 29; },
        afterBuildTicks: fixedTicks(zTicks),
        grid: { display: false, drawTicks: false },
        border: { display: false },
        ticks: { padding: 3, font: { size: 8 }, callback: v => String(v) }
      }
    }
  },
  plugins: [barTicks]
});

// frame round a plot area
const frame = color => ({
  id: 'frame',
  beforeDatasetsDraw(chart) {
    const { ctx, chartArea: a } = chart;
    ctx.save();
    ctx.strokeStyle = color;
    ctx.lineWidth = 1;
    ctx.strokeRect(a.left, a.top, a.right - a.left, a.bottom - a.top);
    ctx.restore();
  }
});

// panel B
const sRed = '#e31e24', sGreen = '#35a83f';
const sDot = (list, color, radius) => ({ data: pts(list), backgroundColor: color, borderWidth: 0, pointRadius: radius });
new Chart(document.getElementById('splot'), {
  type: 'scatter',
  data: {
    datasets: [
      sDot(sRedTopCore, sRed, 2.4), sDot(sRedTop, sRed, 1.3),
      sDot(sRedLowCore, sRed, 2.6), sDot(sRedLow, sRed, 1.3),
      sDot(sGreenTopCore, sGreen, 2.1), sDot(sGreenTop, sGreen, 1.3),
      sDot(sGreenLowCore, sGreen, 2.1), sDot(sGreenLow, sGreen, 1.3)
    ]
  },
  options: {
    layout: { padding: { top: 15, right: 7 } },
    scales: {
      x: {
        min: -240, max: 217.5,
        afterFit(s) { s.height = 20; },
        afterBuildTicks: fixedTicks(sXTicks),
        title: { display: true, text: 'p[1]', font: { size: 7 }, padding: { bottom: 5 } },
        grid: { color: c => c.tick.value === 0 ? '#c4c4c4' : '#f1f1f1', lineWidth: c => c.tick.value === 0 ? 1.2 : .8, drawTicks: false },
        border: { display: false },
        ticks: { padding: 3, font: { size: 4.5 }, color: '#555', maxRotation: 0, autoSkip: false, callback: v => v % 100 === 0 ? String(v) : '' }
      },
      y: {
        min: -1.104, max: 1.104,
        afterFit(s) { s.width = 23; },
        afterBuildTicks: fixedTicks(sYTicks),
        title: { display: true, text: 'p(corr)[1]', font: { size: 7.5 }, padding: { top: 5 } },
        grid: { color: c => c.tick.value === 0 ? '#c4c4c4' : '#f1f1f1', lineWidth: c => c.tick.value === 0 ? 1.2 : .8, drawTicks: false },
        border: { display: false },
        ticks: { padding: 3, font: { size: 4.5 }, color: '#555', autoSkip: false, callback: v => v % .5 === 0 ? v.toFixed(1) : '' }
      }
    }
  },
  plugins: [frame('#b5b5b5')]
});

// panel C
const insigCore = [];
insigBands.forEach(([y, ...xs]) => xs.forEach(x => insigCore.push({ x, y })));
const vDot = (data, color, radius) => ({ data, backgroundColor: color, borderWidth: 0, pointRadius: radius });
const cutLine = data => ({ data, showLine: true, pointRadius: 0, borderColor: '#2b2b2b', borderWidth: 1, borderDash: [4, 3] });
const vX = [-10.34, 10.1], vY = [-.31, 6.86];
new Chart(document.getElementById('volcano'), {
  type: 'scatter',
  data: {
    datasets: [
      cutLine(vY.map(y => ({ x: fcCuts[0], y }))),
      cutLine(vY.map(y => ({ x: fcCuts[1], y }))),
      cutLine(vX.map(x => ({ x, y: pCut }))),
      vDot(pts(upPoints), '#c8202c', 2.8),
      vDot(pts(downPoints), '#216b3a', 2.8),
      vDot(pts(insigOutliers), '#bdbdbd', 2.3),
      vDot(insigCore, '#bdbdbd', 3.9)
    ]
  },
  options: {
    layout: { padding: { top: 6.7 } },
    scales: {
      x: {
        min: vX[0], max: vX[1],
        afterFit(s) { s.height = 27; },
        afterBuildTicks: fixedTicks(vXTicks),
        title: { display: true, text: 'Log₂(Fold Change)', font: { size: 11 }, padding: { bottom: 2.7 } },
        grid: { color: '#ededed', tickColor: '#888', tickLength: 2 },
        border: { display: false },
        ticks: { padding: 1, font: { size: 7.5 }, color: '#444', maxRotation: 0, autoSkip: false }
      },
      y: {
        min: vY[0], max: vY[1],
        afterFit(s) { s.width = 26.3; },
        afterBuildTicks: fixedTicks(vYTicks),
        title: { display: true, text: '−Log₁₀(P-value)', font: { size: 11 }, padding: { top: 1.4 } },
        grid: { color: '#ededed', tickColor: '#888', tickLength: 2 },
        border: { display: false },
        ticks: { padding: 2, font: { size: 7.5 }, color: '#444', autoSkip: false }
      }
    }
  },
  plugins: [frame('#9a9a9a')]
});

// panel D
function subChart(id, lines, mean, lineColor, meanColor, axisWidth, titlePad, rightPad) {
  const toPts = row => row.map((y, x) => ({ x, y }));
  new Chart(document.getElementById(id), {
    type: 'scatter',
    data: {
      datasets: [
        { data: toPts(mean), showLine: true, pointRadius: 0, borderColor: meanColor, borderWidth: 1.4 },
        ...lines.map(row => ({ data: toPts(row), showLine: true, pointRadius: 0, borderColor: lineColor, borderWidth: 1 }))
      ]
    },
    options: {
      layout: { padding: { top: 10.3, right: rightPad } },
      scales: {
        x: {
          min: -.04, max: 5,
          afterFit(s) { s.height = 35.7; },
          afterBuildTicks: fixedTicks(subXLabels.map((_, i) => i)),
          grid: { drawOnChartArea: false, color: '#aaa', tickLength: 3 },
          border: { color: '#aaa' },
          ticks: { padding: 3, font: { size: 7.5 }, autoSkip: false, minRotation: 90, maxRotation: 90, callback: v => subXLabels[v] }
        },
        y: {
          min: -2, max: 3,
          afterFit(s) { s.width = axisWidth; },
          afterBuildTicks: fixedTicks(subYTicks),
          title: { display: true, text: 'Standardised value', font: { size: 8.6 }, padding: { top: titlePad } },
          grid: { drawOnChartArea: false, color: '#aaa', tickLength: 3 },
          border: { color: '#aaa' },
          ticks: { padding: 5, font: { size: 6 }, crossAlign: 'center', minRotation: 90, maxRotation: 90, callback: v => String(v) }
        }
      }
    }
  });
}
subChart('sub1', linesSub1, meanSub1, 'rgba(40,128,112,.55)', '#0d3b33', 42.7, 9, 10);
subChart('sub2', linesSub2, meanSub2, 'rgba(233,203,112,.6)', '#2b2410', 39.7, 7, 7.3);
</script>
</body>
</html>
